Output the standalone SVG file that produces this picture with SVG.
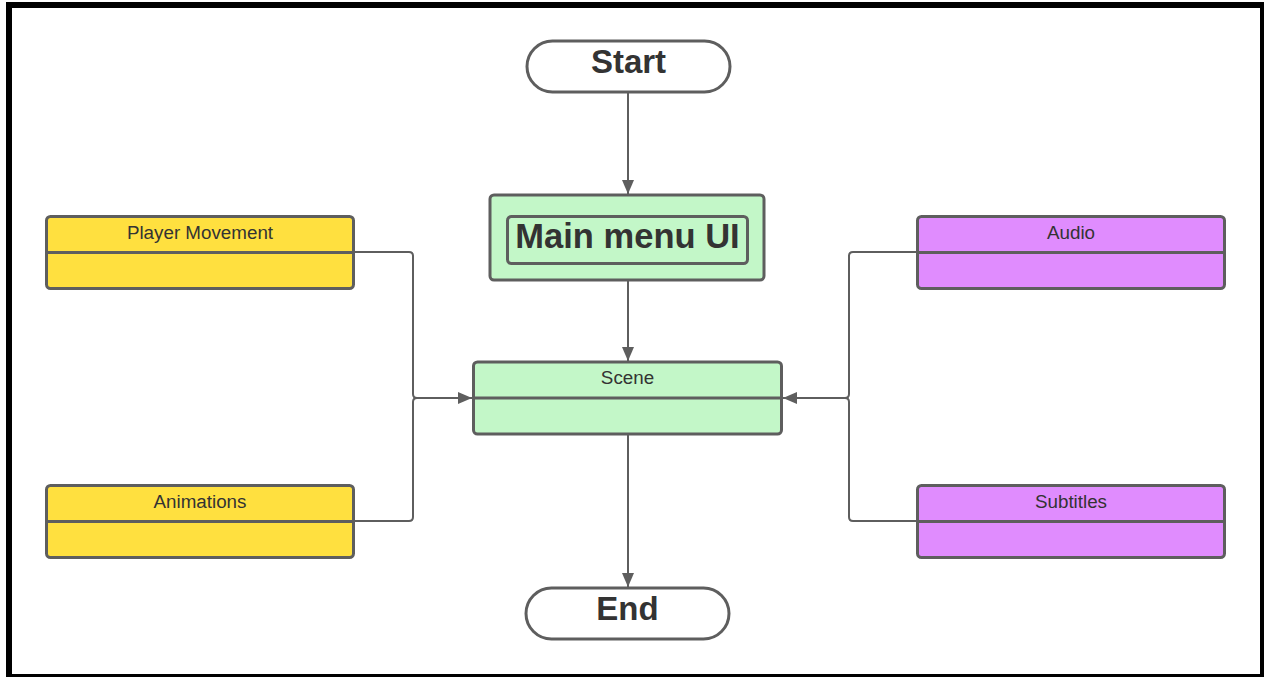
<svg xmlns="http://www.w3.org/2000/svg" width="1264" height="677" viewBox="0 0 1264 677">
  <defs>
    <marker id="arrow" viewBox="0 0 14 12" refX="14" refY="6" markerWidth="14" markerHeight="12" markerUnits="userSpaceOnUse" orient="auto">
      <path d="M0,0 L14,6 L0,12 Z" fill="#5e5e5e"/>
    </marker>
    <style>
      .frame { fill: #ffffff; stroke: #000000; stroke-width: 6; }
      .box { stroke: #5e5e5e; stroke-width: 3; }
      .div { stroke: #5e5e5e; stroke-width: 3; fill: none; }
      .yellow { fill: #ffe03f; }
      .purple { fill: #e08cfe; }
      .green { fill: #c3f7c8; }
      .term { fill: #ffffff; }
      .lbl { font-family: "Liberation Sans", Arial, sans-serif; font-size: 18.8px; fill: #333333; text-anchor: middle; }
      .big { font-family: "Liberation Sans", Arial, sans-serif; font-size: 33px; font-weight: bold; fill: #333333; text-anchor: middle; }
      .conn { fill: none; stroke: #5e5e5e; stroke-width: 2; }
    </style>
  </defs>

  <rect class="frame" x="9" y="5" width="1254" height="672"/>

  <g id="connectors">
    <path class="conn" d="M628,92 L628,194" marker-end="url(#arrow)"/>
    <path class="conn" d="M628,280 L628,361" marker-end="url(#arrow)"/>
    <path class="conn" d="M628,434 L628,587" marker-end="url(#arrow)"/>
    <path class="conn" d="M354,252 L409,252 Q413,252 413,256 L413,394 Q413,398 417,398 L472,398" marker-end="url(#arrow)"/>
    <path class="conn" d="M354,521 L409,521 Q413,521 413,517 L413,402 Q413,398 417,398"/>
    <path class="conn" d="M917,252 L853,252 Q849,252 849,256 L849,394 Q849,398 845,398 L783,398" marker-end="url(#arrow)"/>
    <path class="conn" d="M917,521 L853,521 Q849,521 849,517 L849,402 Q849,398 845,398"/>
  </g>

  <g id="start">
    <rect class="box term" x="527" y="41" width="203" height="51" rx="25.5"/>
    <text class="big" x="628.5" y="73">Start</text>
  </g>

  <g id="main-menu">
    <rect class="box green" x="490" y="195" width="274" height="85" rx="4"/>
    <rect class="box green" x="507.5" y="216.5" width="240" height="47" rx="4"/>
    <text class="big" x="627.5" y="248" style="font-size:34.5px">Main menu UI</text>
  </g>

  <g id="scene">
    <rect class="box green" x="473.5" y="362" width="308" height="72" rx="4"/>
    <line class="div" x1="473.5" y1="398" x2="781.5" y2="398"/>
    <text class="lbl" x="627.5" y="384">Scene</text>
  </g>

  <g id="end">
    <rect class="box term" x="526" y="588" width="203" height="51" rx="25.5"/>
    <text class="big" x="627.5" y="620">End</text>
  </g>

  <g id="player-movement">
    <rect class="box yellow" x="46.5" y="216.5" width="307" height="72" rx="4"/>
    <line class="div" x1="46.5" y1="252.5" x2="353.5" y2="252.5"/>
    <text class="lbl" x="200" y="239">Player Movement</text>
  </g>

  <g id="animations">
    <rect class="box yellow" x="46.5" y="485.5" width="307" height="72" rx="4"/>
    <line class="div" x1="46.5" y1="521.5" x2="353.5" y2="521.5"/>
    <text class="lbl" x="200" y="508">Animations</text>
  </g>

  <g id="audio">
    <rect class="box purple" x="917.5" y="216.5" width="307" height="72" rx="4"/>
    <line class="div" x1="917.5" y1="252.5" x2="1224.5" y2="252.5"/>
    <text class="lbl" x="1071" y="239">Audio</text>
  </g>

  <g id="subtitles">
    <rect class="box purple" x="917.5" y="485.5" width="307" height="72" rx="4"/>
    <line class="div" x1="917.5" y1="521.5" x2="1224.5" y2="521.5"/>
    <text class="lbl" x="1071" y="508">Subtitles</text>
  </g>
</svg>
